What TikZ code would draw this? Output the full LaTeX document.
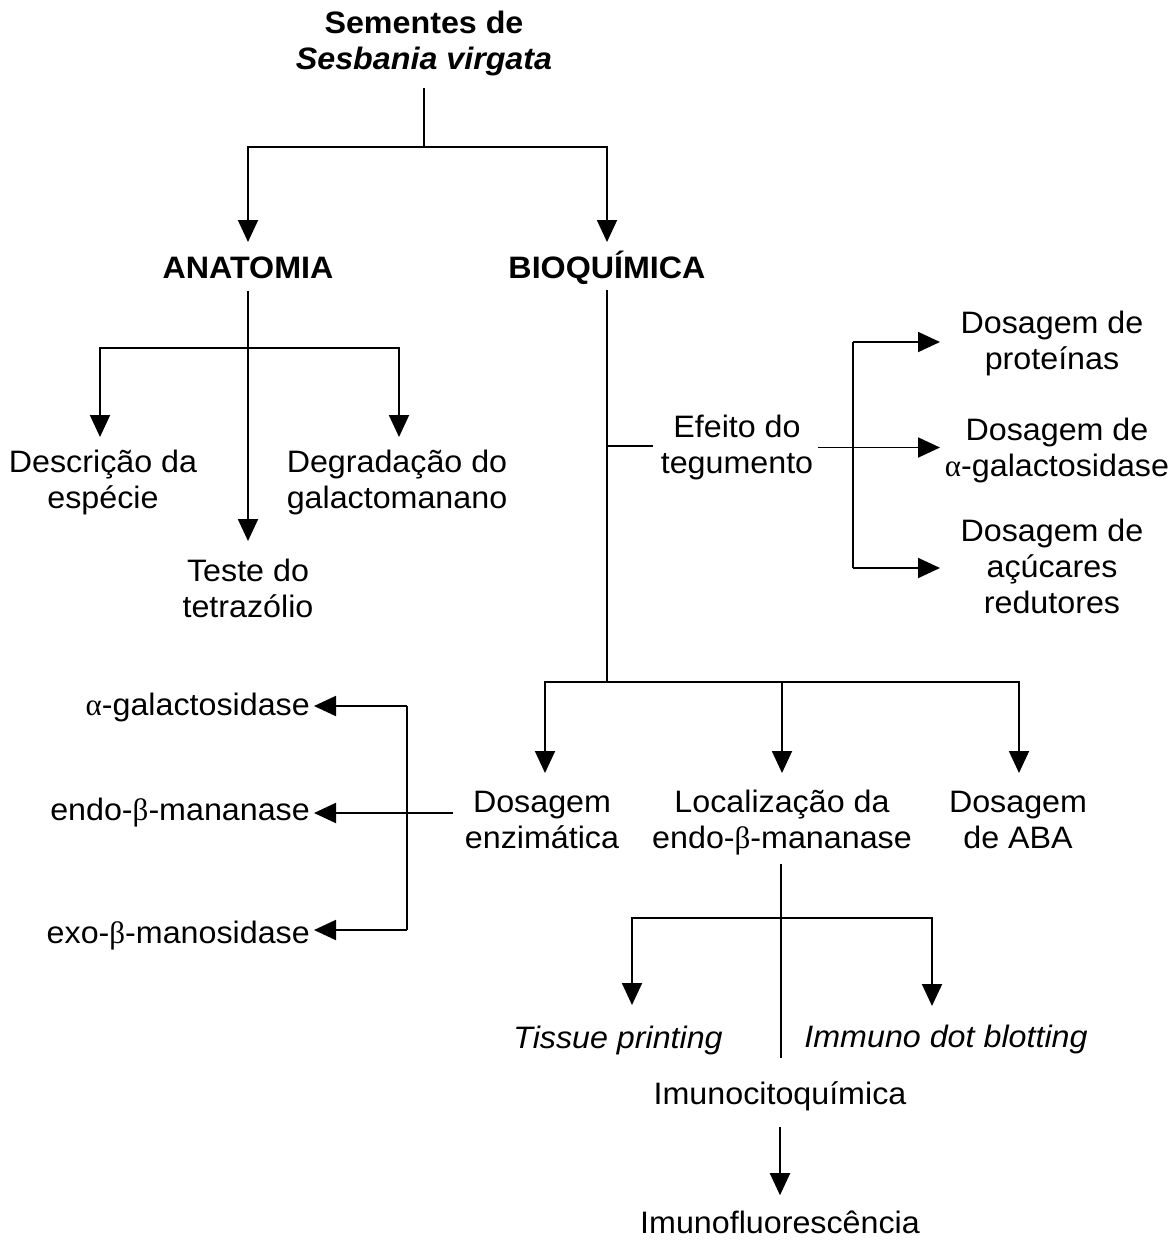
\documentclass[tikz,border=0pt]{standalone}
\usepackage{fontspec}
\setmainfont{Liberation Sans}[FakeStretch=1.04]
\newfontfamily\grk{Liberation Serif}
\usetikzlibrary{arrows.meta,calc}
\newcommand\fsz{\fontsize{31}{36}\selectfont}
\newcommand\galpha{{\grk α}}
\newcommand\gbeta{{\grk β}}
\begin{document}
\begin{tikzpicture}[x=1pt,y=-1pt,
  txt/.style={font=\fsz, align=center, inner sep=0pt},
  btxt/.style={txt, font=\fsz\bfseries},
  itxt/.style={txt, font=\fsz\itshape},
  ln/.style={line width=1.9pt},
  arr/.style={ln, -{Triangle[length=22pt,width=20pt]}}]
\useasboundingbox (0,0) rectangle (1175,1240);

% nodes
\node[btxt] (seed) at (424,43.5) {Sementes de\\\textit{Sesbania virgata}};
\node[btxt, anchor=base] (anat) at (248,278) {ANATOMIA};
\node[btxt, anchor=base] (bio) at (607,278) {BIOQUÍMICA};
\node[txt] (desc) at (103,482.5) {Descrição da\\espécie};
\node[txt] (degr) at (397,482.5) {Degradação do\\galactomanano};
\node[txt] (teste) at (248,588) {Teste do\\tetrazólio};
\node[txt] (efeito) at (737,447.5) {Efeito do\\tegumento};
\node[txt] (dp) at (1052,343.5) {Dosagem de\\proteínas};
\node[txt] (da) at (1057,450.5) {Dosagem de\\\galpha-galactosidase};
\node[txt] (dr) at (1052,566) {Dosagem de\\açúcares\\redutores};
\node[txt] (denz) at (542,820) {Dosagem\\enzimática};
\node[txt] (loc) at (782,823) {Localização da\\endo-\gbeta-mananase};
\node[txt] (aba) at (1018,820) {Dosagem\\de ABA};
\node[txt, anchor=base east] (ag) at (310,715) {\galpha-galactosidase};
\node[txt, anchor=base east] (em) at (310,820) {endo-\gbeta-mananase};
\node[txt, anchor=base east] (ex) at (310,943) {exo-\gbeta-manosidase};
\node[itxt, anchor=base] (tp) at (618,1048) {Tissue printing};
\node[itxt, anchor=base] (idb) at (946,1047) {Immuno dot blotting};
\node[txt, anchor=base] (imc) at (780,1104) {Imunocitoquímica};
\node[txt, anchor=base] (imf) at (780,1233) {Imunofluorescência};

% junctions and arrow tips
\coordinate (j0) at (424,147);
\coordinate (anat-in) at (248,242);
\coordinate (bio-in) at (607,242);
\coordinate (ja) at (248,348);
\coordinate (teste-in) at (248,541);
\coordinate (desc-in) at (100,437);
\coordinate (degr-in) at (399,437);
\coordinate (jb) at (607,682);
\coordinate (jt) at (607,446);
\coordinate (jr) at (853,447.5);
\coordinate (b1) at (853,342);
\coordinate (b3) at (853,568);
\coordinate (dp-in) at (940,342);
\coordinate (da-in) at (940,447.5);
\coordinate (dr-in) at (940,568);
\coordinate (denz-in) at (545,773);
\coordinate (loc-in) at (782,773);
\coordinate (aba-in) at (1019,773);
\coordinate (bl1) at (407,706);
\coordinate (bl3) at (407,930);
\coordinate (ag-in) at (314,706);
\coordinate (ex-in) at (314,930);
\coordinate (em-in) at (314,813);
\coordinate (jl) at (781,918);
\coordinate (jl-end) at (781,1058);
\coordinate (tp-in) at (632,1005);
\coordinate (idb-in) at (932,1006);

% connectors
\draw[ln, shorten <=12pt] (seed.south) -- (j0);
\draw[arr] (j0) -| (anat-in);
\draw[arr] (j0) -| (bio-in);

\draw[arr, shorten <=12pt] (anat.south) -- (teste-in);
\draw[arr] (ja) -| (desc-in);
\draw[arr] (ja) -| (degr-in);

\draw[ln, shorten <=6pt] (bio.south) -- (jb);
\draw[ln, shorten >=8pt] (jt) -- (efeito.west |- jt);
\draw[ln, shorten <=5pt] (efeito.east) -- (jr);
\draw[ln] (b1) -- (b3);
\draw[arr] (b1) -- (dp-in);
\draw[arr] (jr) -- (da-in);
\draw[arr] (b3) -- (dr-in);

\draw[arr] (jb) -| (denz-in);
\draw[arr] (jb) -| (loc-in);
\draw[arr] (jb) -| (aba-in);

\draw[arr, shorten <=12pt] (denz.west |- em-in) -- (em-in);
\draw[ln] (bl1) -- (bl3);
\draw[arr] (bl1) -- (ag-in);
\draw[arr] (bl3) -- (ex-in);

\draw[ln, shorten <=8pt] (loc.south -| jl) -- (jl-end);
\draw[arr] (jl) -| (tp-in);
\draw[arr] (jl) -| (idb-in);

\draw[arr, shorten <=16pt, shorten >=15pt] (imc.south) -- (imf.north);
\end{tikzpicture}
\end{document}
